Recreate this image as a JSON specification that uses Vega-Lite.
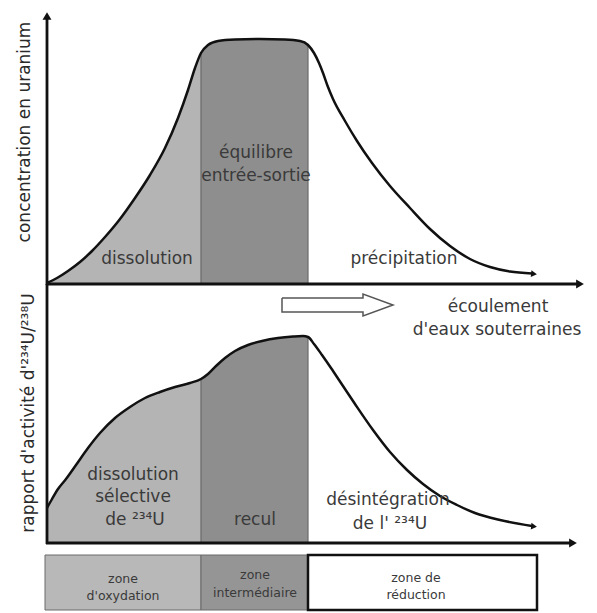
{
  "$schema": "https://vega.github.io/schema/vega-lite/v6.json",
  "width": 597,
  "height": 613,
  "autosize": {"type": "fit", "contains": "padding"},
  "padding": 0,
  "background": "white",
  "config": {"view": {"stroke": null}, "text": {"font": "DejaVu Sans"}},
  "datasets": {
    "curves": [
      {"curve": "top", "x": 47, "y": 283},
      {"curve": "top", "x": 57, "y": 278},
      {"curve": "top", "x": 68, "y": 271},
      {"curve": "top", "x": 80, "y": 262},
      {"curve": "top", "x": 92, "y": 251},
      {"curve": "top", "x": 105, "y": 237},
      {"curve": "top", "x": 120, "y": 219},
      {"curve": "top", "x": 135, "y": 198},
      {"curve": "top", "x": 150, "y": 175},
      {"curve": "top", "x": 165, "y": 148},
      {"curve": "top", "x": 178, "y": 118},
      {"curve": "top", "x": 188, "y": 90},
      {"curve": "top", "x": 195, "y": 68},
      {"curve": "top", "x": 201, "y": 53},
      {"curve": "top", "x": 208, "y": 45},
      {"curve": "top", "x": 218, "y": 41},
      {"curve": "top", "x": 235, "y": 39.5},
      {"curve": "top", "x": 260, "y": 39},
      {"curve": "top", "x": 285, "y": 39.5},
      {"curve": "top", "x": 300, "y": 41},
      {"curve": "top", "x": 308, "y": 45},
      {"curve": "top", "x": 314, "y": 53},
      {"curve": "top", "x": 319, "y": 63},
      {"curve": "top", "x": 323, "y": 73},
      {"curve": "top", "x": 328, "y": 87},
      {"curve": "top", "x": 333, "y": 99},
      {"curve": "top", "x": 345, "y": 121},
      {"curve": "top", "x": 357, "y": 141},
      {"curve": "top", "x": 372, "y": 163},
      {"curve": "top", "x": 390, "y": 186},
      {"curve": "top", "x": 410, "y": 208},
      {"curve": "top", "x": 430, "y": 229},
      {"curve": "top", "x": 450, "y": 246},
      {"curve": "top", "x": 470, "y": 259},
      {"curve": "top", "x": 490, "y": 267},
      {"curve": "top", "x": 510, "y": 271.5},
      {"curve": "top", "x": 532, "y": 273.5},
      {"curve": "bottom", "x": 47, "y": 508},
      {"curve": "bottom", "x": 52, "y": 499},
      {"curve": "bottom", "x": 58, "y": 489},
      {"curve": "bottom", "x": 66, "y": 479},
      {"curve": "bottom", "x": 76, "y": 465},
      {"curve": "bottom", "x": 88, "y": 448},
      {"curve": "bottom", "x": 100, "y": 433},
      {"curve": "bottom", "x": 115, "y": 418},
      {"curve": "bottom", "x": 130, "y": 407},
      {"curve": "bottom", "x": 145, "y": 398},
      {"curve": "bottom", "x": 160, "y": 392},
      {"curve": "bottom", "x": 175, "y": 387},
      {"curve": "bottom", "x": 190, "y": 383},
      {"curve": "bottom", "x": 201, "y": 379},
      {"curve": "bottom", "x": 208, "y": 374},
      {"curve": "bottom", "x": 216, "y": 366},
      {"curve": "bottom", "x": 225, "y": 358},
      {"curve": "bottom", "x": 235, "y": 351},
      {"curve": "bottom", "x": 248, "y": 345},
      {"curve": "bottom", "x": 262, "y": 341},
      {"curve": "bottom", "x": 278, "y": 338},
      {"curve": "bottom", "x": 293, "y": 336.5},
      {"curve": "bottom", "x": 303, "y": 336},
      {"curve": "bottom", "x": 308, "y": 337},
      {"curve": "bottom", "x": 314, "y": 344},
      {"curve": "bottom", "x": 322, "y": 355},
      {"curve": "bottom", "x": 331, "y": 368},
      {"curve": "bottom", "x": 341, "y": 383},
      {"curve": "bottom", "x": 355, "y": 404},
      {"curve": "bottom", "x": 373, "y": 430},
      {"curve": "bottom", "x": 390, "y": 452},
      {"curve": "bottom", "x": 407, "y": 470},
      {"curve": "bottom", "x": 423, "y": 484},
      {"curve": "bottom", "x": 440, "y": 496},
      {"curve": "bottom", "x": 457, "y": 505},
      {"curve": "bottom", "x": 475, "y": 513},
      {"curve": "bottom", "x": 500, "y": 520},
      {"curve": "bottom", "x": 532, "y": 526}
    ],
    "axes": [
      {"x": 47, "y": 17, "x2": 47, "y2": 285},
      {"x": 46, "y": 284, "x2": 580, "y2": 284},
      {"x": 47, "y": 284, "x2": 47, "y2": 544},
      {"x": 46, "y": 543, "x2": 573, "y2": 543}
    ],
    "dividers": [
      {"x": 201, "y": 54, "x2": 201, "y2": 284},
      {"x": 308, "y": 46, "x2": 308, "y2": 284},
      {"x": 201, "y": 380, "x2": 201, "y2": 543},
      {"x": 308, "y": 338, "x2": 308, "y2": 543}
    ],
    "vArrow": [{"x": 47, "y": 16}],
    "hArrows": [{"x": 580, "y": 284}, {"x": 573, "y": 543}],
    "curveArrows": [{"x": 534, "y": 274}, {"x": 534, "y": 526.5}],
    "flowArrow": [
      {"i": 0, "x": 282, "y": 298},
      {"i": 1, "x": 363, "y": 298},
      {"i": 2, "x": 363, "y": 294},
      {"i": 3, "x": 393, "y": 305},
      {"i": 4, "x": 363, "y": 316},
      {"i": 5, "x": 363, "y": 312},
      {"i": 6, "x": 282, "y": 312},
      {"i": 7, "x": 282, "y": 298}
    ],
    "zones": [
      {"zone": "oxydation", "x": 45, "x2": 201, "y": 555, "y2": 610},
      {"zone": "intermediaire", "x": 201, "x2": 308, "y": 555, "y2": 610},
      {"zone": "reduction", "x": 308, "x2": 537, "y": 555, "y2": 610}
    ],
    "labels": [
      {"kind": "big", "x": 147, "y": 259, "label": "dissolution"},
      {"kind": "big", "x": 256, "y": 153, "label": "équilibre"},
      {"kind": "big", "x": 256, "y": 176, "label": "entrée-sortie"},
      {"kind": "big", "x": 404, "y": 259, "label": "précipitation"},
      {"kind": "big", "x": 133, "y": 475, "label": "dissolution"},
      {"kind": "big", "x": 133, "y": 497, "label": "sélective"},
      {"kind": "big", "x": 135, "y": 520, "label": "de ²³⁴U"},
      {"kind": "big", "x": 255, "y": 520, "label": "recul"},
      {"kind": "big", "x": 388, "y": 500, "label": "désintégration"},
      {"kind": "big", "x": 390, "y": 524, "label": "de l' ²³⁴U"},
      {"kind": "big", "x": 498, "y": 307, "label": "écoulement"},
      {"kind": "big", "x": 497, "y": 330, "label": "d'eaux souterraines"},
      {"kind": "small", "x": 123, "y": 579, "label": "zone"},
      {"kind": "small", "x": 123, "y": 596, "label": "d'oxydation"},
      {"kind": "small", "x": 255, "y": 575, "label": "zone"},
      {"kind": "small", "x": 255, "y": 593, "label": "intermédiaire"},
      {"kind": "small", "x": 416, "y": 578, "label": "zone de"},
      {"kind": "small", "x": 416, "y": 595, "label": "réduction"},
      {"kind": "title", "x": 25, "y": 132, "label": "concentration en uranium"},
      {"kind": "title", "x": 29, "y": 413, "label": "rapport d'activité d'²³⁴U/²³⁸U"}
    ]
  },
  "encoding": {
    "x": {"field": "x", "type": "quantitative", "scale": {"domain": [0, 597], "nice": false, "zero": false}, "axis": null},
    "y": {"field": "y", "type": "quantitative", "scale": {"domain": [0, 613], "reverse": true, "nice": false, "zero": false}, "axis": null}
  },
  "layer": [
    {
      "data": {"name": "curves"},
      "transform": [{"filter": "datum.curve == 'top' && datum.x <= 201"}],
      "mark": {"type": "area", "interpolate": "monotone", "fill": "#b4b4b4"},
      "encoding": {"y2": {"datum": 284}}
    },
    {
      "data": {"name": "curves"},
      "transform": [{"filter": "datum.curve == 'top' && datum.x >= 201 && datum.x <= 308"}],
      "mark": {"type": "area", "interpolate": "monotone", "fill": "#8e8e8e"},
      "encoding": {"y2": {"datum": 284}}
    },
    {
      "data": {"name": "curves"},
      "transform": [{"filter": "datum.curve == 'bottom' && datum.x <= 201"}],
      "mark": {"type": "area", "interpolate": "monotone", "fill": "#b4b4b4"},
      "encoding": {"y2": {"datum": 543}}
    },
    {
      "data": {"name": "curves"},
      "transform": [{"filter": "datum.curve == 'bottom' && datum.x >= 201 && datum.x <= 308"}],
      "mark": {"type": "area", "interpolate": "monotone", "fill": "#8e8e8e"},
      "encoding": {"y2": {"datum": 543}}
    },
    {
      "data": {"name": "dividers"},
      "mark": {"type": "rule", "stroke": "#6a6a6a", "strokeWidth": 1.2},
      "encoding": {"x2": {"field": "x2"}, "y2": {"field": "y2"}}
    },
    {
      "data": {"name": "zones"},
      "transform": [{"filter": "datum.zone != 'reduction'"}],
      "mark": {"type": "rect", "stroke": "#6a6a6a", "strokeWidth": 1},
      "encoding": {
        "x2": {"field": "x2"},
        "y2": {"field": "y2"},
        "fill": {"field": "zone", "type": "nominal", "scale": {"domain": ["oxydation", "intermediaire"], "range": ["#b8b8b8", "#959595"]}, "legend": null}
      }
    },
    {
      "data": {"name": "zones"},
      "transform": [{"filter": "datum.zone == 'reduction'"}],
      "mark": {"type": "rect", "fill": "white", "stroke": "#111111", "strokeWidth": 2.5},
      "encoding": {"x2": {"field": "x2"}, "y2": {"field": "y2"}}
    },
    {
      "data": {"name": "flowArrow"},
      "mark": {"type": "line", "stroke": "#555555", "strokeWidth": 1.5, "interpolate": "linear"},
      "encoding": {"order": {"field": "i", "type": "quantitative"}}
    },
    {
      "data": {"name": "curves"},
      "mark": {"type": "line", "interpolate": "monotone", "stroke": "#111111", "strokeWidth": 2.5},
      "encoding": {"detail": {"field": "curve", "type": "nominal"}}
    },
    {
      "data": {"name": "curveArrows"},
      "mark": {"type": "point", "shape": "triangle-right", "filled": true, "color": "#111111", "size": 45, "opacity": 1, "angle": 6}
    },
    {
      "data": {"name": "axes"},
      "mark": {"type": "rule", "stroke": "#111111", "strokeWidth": 2.8},
      "encoding": {"x2": {"field": "x2"}, "y2": {"field": "y2"}}
    },
    {
      "data": {"name": "vArrow"},
      "mark": {"type": "point", "shape": "triangle-up", "filled": true, "color": "#111111", "size": 80, "opacity": 1}
    },
    {
      "data": {"name": "hArrows"},
      "mark": {"type": "point", "shape": "triangle-right", "filled": true, "color": "#111111", "size": 80, "opacity": 1}
    },
    {
      "data": {"name": "labels"},
      "transform": [{"filter": "datum.kind == 'big'"}],
      "mark": {"type": "text", "fontSize": 17, "color": "#3a3a3a", "align": "center", "baseline": "middle"},
      "encoding": {"text": {"field": "label"}}
    },
    {
      "data": {"name": "labels"},
      "transform": [{"filter": "datum.kind == 'small'"}],
      "mark": {"type": "text", "fontSize": 12.5, "color": "#3a3a3a", "align": "center", "baseline": "middle"},
      "encoding": {"text": {"field": "label"}}
    },
    {
      "data": {"name": "labels"},
      "transform": [{"filter": "datum.kind == 'title'"}],
      "mark": {"type": "text", "fontSize": 17, "color": "#2a2a2a", "align": "center", "baseline": "middle", "angle": 270},
      "encoding": {"text": {"field": "label"}}
    }
  ]
}
